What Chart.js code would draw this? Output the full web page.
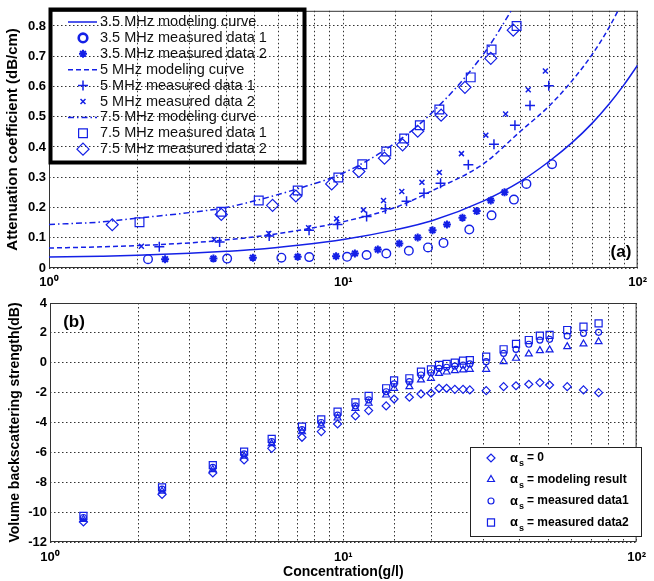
<!DOCTYPE html>
<html>
<head>
<meta charset="utf-8">
<script src="https://cdn.jsdelivr.net/npm/chart.js@4.4.1/dist/chart.umd.min.js"></script>
<style>
  html, body { margin: 0; padding: 0; background: #fff; }
  #wrapA { position: absolute; left: 0; top: 0; width: 654px; height: 290px; }
  #wrapB { position: absolute; left: 0; top: 290px; width: 654px; height: 291px; }
</style>
</head>
<body>
<div id="wrapA"><canvas id="attChart"></canvas></div>
<div id="wrapB"><canvas id="bsChart"></canvas></div>
<script>
// ---- (a) attenuation coefficient vs concentration ----
const curveX = [1, 1.5, 2, 3, 4, 5, 7, 10, 15, 20, 30, 40, 50, 60, 70, 80, 90, 100];
const model35 = [0.036, 0.039, 0.042, 0.049, 0.055, 0.061, 0.075, 0.094, 0.126, 0.156, 0.222, 0.286, 0.352, 0.415, 0.478, 0.542, 0.606, 0.670];
const curveX5 = [1, 1.5, 2, 3, 4, 5, 7, 10, 15, 20, 30, 40, 50, 60, 70, 80, 90];
const model5 = [0.066, 0.070, 0.074, 0.083, 0.093, 0.103, 0.124, 0.153, 0.200, 0.255, 0.345, 0.452, 0.535, 0.620, 0.705, 0.795, 0.890];
const curveX75 = [1, 1.5, 2, 3, 4, 5, 7, 10, 15, 20, 30, 40];
const model75 = [0.144, 0.152, 0.165, 0.183, 0.200, 0.222, 0.262, 0.314, 0.413, 0.513, 0.708, 0.900];

const c35m1 = [2.17, 4.03, 6.16, 7.66, 10.3, 12.0, 14.0, 16.7, 19.4, 21.9, 26.8, 31.9, 38.0, 41.9, 51.2];
const a35m1 = [0.029, 0.031, 0.034, 0.036, 0.037, 0.043, 0.048, 0.057, 0.068, 0.083, 0.127, 0.174, 0.226, 0.278, 0.343];
const c35m2 = [2.48, 3.62, 4.93, 7.0, 9.45, 10.95, 13.1, 15.5, 17.9, 20.1, 22.5, 25.4, 28.4, 31.7, 35.3];
const a35m2 = [0.029, 0.031, 0.034, 0.037, 0.039, 0.048, 0.061, 0.081, 0.101, 0.125, 0.144, 0.166, 0.188, 0.223, 0.250];
const c5m1 = [2.37, 3.80, 5.6, 7.65, 9.56, 12.0, 13.9, 16.4, 18.8, 21.4, 26.6, 32.5, 38.3, 43.1, 49.9];
const a5m1 = [0.070, 0.086, 0.106, 0.125, 0.144, 0.170, 0.196, 0.221, 0.247, 0.280, 0.341, 0.409, 0.472, 0.537, 0.602];
const c5m2 = [2.06, 3.64, 5.58, 7.62, 9.49, 11.7, 13.7, 15.8, 18.5, 21.2, 25.2, 30.5, 35.6, 42.5, 48.6];
const a5m2 = [0.072, 0.094, 0.114, 0.133, 0.163, 0.192, 0.223, 0.253, 0.283, 0.316, 0.378, 0.439, 0.509, 0.589, 0.651];
const c75m1 = [2.03, 3.85, 5.16, 7.0, 9.62, 11.6, 14.0, 16.1, 18.2, 21.2, 27.1, 31.9, 38.8];
const a75m1 = [0.151, 0.186, 0.223, 0.256, 0.299, 0.343, 0.385, 0.428, 0.472, 0.524, 0.630, 0.722, 0.800];
const c75m2 = [1.64, 3.85, 5.75, 6.9, 9.13, 11.3, 13.8, 15.9, 17.9, 21.5, 25.9, 31.7, 37.8];
const a75m2 = [0.143, 0.177, 0.207, 0.238, 0.278, 0.319, 0.363, 0.407, 0.452, 0.505, 0.597, 0.693, 0.786];

// ---- (b) volume backscattering strength vs concentration ----
const concB = [1.30, 2.41, 3.59, 4.59, 5.70, 7.23, 8.41, 9.56, 11.0, 12.2, 14.0, 14.9, 16.8, 18.4, 19.9, 21.2, 22.5, 24.0, 25.6, 27.0, 30.7, 35.2, 38.8, 42.9, 46.8, 50.5, 58.0, 65.9, 74.2];
const svZero = [-10.66, -8.82, -7.38, -6.51, -5.73, -4.99, -4.61, -4.10, -3.56, -3.20, -2.89, -2.43, -2.31, -2.09, -2.04, -1.71, -1.71, -1.78, -1.78, -1.82, -1.87, -1.60, -1.54, -1.44, -1.33, -1.49, -1.60, -1.82, -2.00];
const svModel = [-10.48, -8.60, -7.15, -6.25, -5.42, -4.62, -4.18, -3.70, -3.05, -2.71, -2.16, -1.71, -1.60, -1.15, -1.04, -0.71, -0.62, -0.53, -0.48, -0.44, -0.44, 0.07, 0.30, 0.59, 0.81, 0.86, 1.08, 1.26, 1.41];
const svMeas1 = [-10.36, -8.46, -7.00, -6.10, -5.28, -4.48, -4.00, -3.50, -2.89, -2.49, -1.94, -1.42, -1.27, -0.82, -0.67, -0.37, -0.30, -0.22, -0.15, -0.08, 0.07, 0.63, 0.90, 1.24, 1.52, 1.57, 1.79, 1.97, 2.04];
const svMeas2 = [-10.26, -8.34, -6.86, -5.95, -5.10, -4.28, -3.79, -3.27, -2.65, -2.22, -1.71, -1.18, -1.04, -0.60, -0.44, -0.15, -0.08, 0.00, 0.14, 0.18, 0.41, 0.90, 1.26, 1.52, 1.81, 1.86, 2.19, 2.41, 2.64];
const legendBText = ['= 0', '= modeling result', '= measured data1', '= measured data2'];

const BLUE = '#1420e6';
const FONT = '"Liberation Sans", Arial, sans-serif';

function pts(xs, ys) {
  return xs.map((x, i) => ({ x: x, y: ys[i] }));
}

function marks(label, xs, ys, style, r, bw) {
  return {
    label, data: pts(xs, ys), showLine: false,
    pointStyle: style, pointRadius: r, pointBorderWidth: bw,
    pointBorderColor: BLUE, pointBackgroundColor: 'rgba(0,0,0,0)',
  };
}

function curve(label, xs, ys, dash) {
  return {
    label, data: pts(xs, ys), showLine: true, borderColor: BLUE, borderWidth: 1.5,
    borderDash: dash, pointRadius: 0, cubicInterpolationMode: 'monotone', fill: false,
  };
}

function logAxis(pad) {
  return {
    type: 'logarithmic', min: 1, max: 100,
    ticks: {
      autoSkip: false, maxRotation: 0, padding: pad, color: '#000',
      font: { family: FONT, size: 13, weight: 'bold' },
      callback: (v) => (v === 1 ? '10⁰' : v === 10 ? '10¹' : v === 100 ? '10²' : ''),
    },
    grid: { color: '#333', lineWidth: 1, drawTicks: false },
    border: { display: false, dash: [1.5, 2.5] },
  };
}

const frame = {
  id: 'frame',
  beforeDatasetsDraw(chart) {
    const { ctx, chartArea: a } = chart;
    ctx.save();
    ctx.strokeStyle = '#333';
    ctx.lineWidth = 1;
    ctx.strokeRect(a.left + 0.5, a.top + 0.5, a.right - a.left - 1, a.bottom - a.top - 1);
    ctx.restore();
  },
};

function drawMark(ctx, ds, x, y) {
  ctx.save();
  ctx.strokeStyle = BLUE;
  ctx.fillStyle = 'rgba(0,0,0,0)';
  ctx.lineWidth = ds.legendWidth || ds.pointBorderWidth;
  Chart.helpers.drawPoint(ctx, { pointStyle: ds.pointStyle, radius: ds.pointRadius, borderWidth: ctx.lineWidth, rotation: 0 }, x, y);
  ctx.restore();
}

const legendA = {
  id: 'legendA',
  afterDatasetsDraw(chart) {
    const ctx = chart.ctx;
    ctx.save();
    ctx.strokeStyle = '#000';
    ctx.lineWidth = 4;
    ctx.strokeRect(50.5, 9.5, 254, 153);
    ctx.font = '14.5px ' + FONT;
    ctx.textBaseline = 'middle';
    chart.data.datasets.forEach((ds, i) => {
      const y = 22 + i * 15.9;
      if (ds.showLine) {
        ctx.strokeStyle = BLUE;
        ctx.lineWidth = 1.5;
        ctx.setLineDash(ds.borderDash || []);
        ctx.beginPath();
        ctx.moveTo(68, y);
        ctx.lineTo(97, y);
        ctx.stroke();
        ctx.setLineDash([]);
      } else {
        drawMark(ctx, ds, 83, y);
      }
      ctx.fillStyle = '#111';
      ctx.fillText(ds.label, 100, y);
    });
    ctx.font = 'bold 17px ' + FONT;
    ctx.textAlign = 'center';
    ctx.fillStyle = '#000';
    ctx.fillText('(a)', 621, 252);
    ctx.restore();
  },
};

const legendB = {
  id: 'legendB',
  afterDatasetsDraw(chart) {
    const ctx = chart.ctx;
    ctx.save();
    ctx.fillStyle = '#fff';
    ctx.fillRect(470, 157, 171, 90);
    ctx.strokeStyle = '#222';
    ctx.lineWidth = 1;
    ctx.strokeRect(470.5, 157.5, 171, 89);
    ctx.textBaseline = 'middle';
    chart.data.datasets.forEach((ds, i) => {
      const y = 168 + i * 21.5;
      drawMark(ctx, ds, 491, y);
      ctx.fillStyle = '#000';
      ctx.font = 'bold 13px ' + FONT;
      ctx.fillText('α', 510, y);
      ctx.font = 'bold 9px ' + FONT;
      ctx.fillText('s', 519, y + 6);
      ctx.font = 'bold 12px ' + FONT;
      ctx.fillText(legendBText[i], 527, y);
    });
    ctx.font = 'bold 17px ' + FONT;
    ctx.textAlign = 'center';
    ctx.fillText('(b)', 74, 32);
    ctx.restore();
  },
};

const xA = logAxis(7);
xA.afterFit = (s) => { s.height = 22; };

new Chart(document.getElementById('attChart'), {
  type: 'scatter',
  data: {
    datasets: [
      curve('3.5 MHz modeling curve', curveX, model35, []),
      Object.assign(marks('3.5 MHz measured data 1', c35m1, a35m1, 'circle', 4.3, 1.4), { legendWidth: 2.6 }),
      marks('3.5 MHz measured data 2', c35m2, a35m2, 'star', 4, 2),
      curve('5 MHz modeling curve', curveX5, model5, [5, 3]),
      marks('5 MHz measured data 1', c5m1, a5m1, 'cross', 5, 1.5),
      marks('5 MHz measured data 2', c5m2, a5m2, 'crossRot', 3.5, 1.5),
      curve('7.5 MHz modeling curve', curveX75, model75, [6, 3, 1.5, 3]),
      marks('7.5 MHz measured data 1', c75m1, a75m1, 'rect', 6.2, 1.2),
      marks('7.5 MHz measured data 2', c75m2, a75m2, 'rectRot', 6, 1.2),
    ],
  },
  options: {
    responsive: true, maintainAspectRatio: false, animation: false, events: [],
    layout: { padding: { top: 8, right: 12, left: 0, bottom: 0 } },
    plugins: { legend: { display: false }, tooltip: { enabled: false } },
    scales: {
      x: xA,
      y: {
        min: 0, max: 0.85,
        ticks: {
          stepSize: 0.1, includeBounds: false, padding: 3, color: '#000',
          font: { family: FONT, size: 13, weight: 'bold' },
          callback: (v) => (v === 0 ? '0' : v.toFixed(1)),
        },
        grid: { color: '#333', lineWidth: 1, drawTicks: false },
        border: { display: false, dash: [1.5, 2.5] },
        title: {
          display: true, text: 'Attenuation coefficient (dB/cm)', color: '#000',
          font: { family: FONT, size: 15, weight: 'bold' }, padding: { top: 4, bottom: 0 },
        },
        afterFit: (s) => { s.width = 49; },
      },
    },
  },
  plugins: [frame, legendA],
});

const xB = logAxis(8);
xB.title = {
  display: true, text: 'Concentration(g/l)', color: '#000',
  font: { family: FONT, size: 14, weight: 'bold' }, padding: { top: 0, bottom: 0 },
};
xB.afterFit = (s) => { s.height = 39; };

new Chart(document.getElementById('bsChart'), {
  type: 'scatter',
  data: {
    datasets: [
      marks('αs = 0', concB, svZero, 'rectRot', 4, 1.2),
      marks('αs = modeling result', concB, svModel, 'triangle', 4, 1.2),
      marks('αs = measured data1', concB, svMeas1, 'circle', 3, 1.2),
      marks('αs = measured data2', concB, svMeas2, 'rect', 5, 1.2),
    ],
  },
  options: {
    responsive: true, maintainAspectRatio: false, animation: false, events: [],
    layout: { padding: { top: 13, right: 12, left: 0, bottom: 0 } },
    plugins: { legend: { display: false }, tooltip: { enabled: false } },
    scales: {
      x: xB,
      y: {
        min: -12, max: 4,
        ticks: {
          stepSize: 2, padding: 3, color: '#000',
          font: { family: FONT, size: 13, weight: 'bold' },
        },
        grid: { color: '#333', lineWidth: 1, drawTicks: false },
        border: { display: false, dash: [1.5, 2.5] },
        title: {
          display: true, text: 'Volume backscattering strength(dB)', color: '#000',
          font: { family: FONT, size: 14, weight: 'bold' }, padding: { top: 7, bottom: 0 },
        },
        afterFit: (s) => { s.width = 50; },
      },
    },
  },
  plugins: [frame, legendB],
});
</script>
</body>
</html>
